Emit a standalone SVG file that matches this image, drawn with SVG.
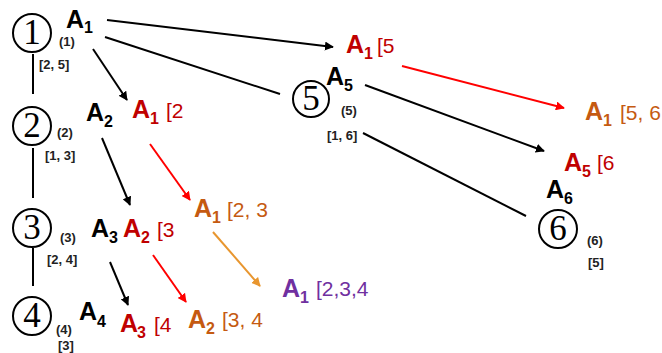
<svg xmlns="http://www.w3.org/2000/svg" width="662" height="353" viewBox="0 0 662 353">
<style>
.a{font-family:"Liberation Sans",Arial,sans-serif;font-weight:bold;font-size:25px}
.s{font-family:"Liberation Sans",Arial,sans-serif;font-weight:bold;font-size:16px}
.b{font-family:"Liberation Sans",Arial,sans-serif;font-size:21px}
.l{font-family:"Liberation Sans",Arial,sans-serif;font-weight:bold;font-size:13px;fill:#222}
.n{font-family:"Liberation Serif","Times New Roman",serif;font-size:35px;text-anchor:middle}
.c{fill:none;stroke:#000;stroke-width:2}
.k{fill:#000}.r{fill:#C00000}.o{fill:#C55A11}.p{fill:#7030A0}
.e{stroke-width:2;fill:none}
</style>
<defs>
<marker id="mk" viewBox="0 0 10 10" refX="9" refY="5" markerWidth="4.5" markerHeight="4.5" orient="auto" markerUnits="strokeWidth"><path d="M0,0L10,5L0,10z" fill="#000"/></marker>
<marker id="mr" viewBox="0 0 10 10" refX="9" refY="5" markerWidth="4.5" markerHeight="4.5" orient="auto" markerUnits="strokeWidth"><path d="M0,0L10,5L0,10z" fill="#FF0000"/></marker>
<marker id="mo" viewBox="0 0 10 10" refX="9" refY="5" markerWidth="4.5" markerHeight="4.5" orient="auto" markerUnits="strokeWidth"><path d="M0,0L10,5L0,10z" fill="#E8962F"/></marker>
</defs>
<g id="connectors">
<line x1="33" y1="54" x2="33" y2="94" stroke="#000" class="e"/>
<line x1="33" y1="148" x2="33" y2="198" stroke="#000" class="e"/>
<line x1="33" y1="248" x2="33" y2="286" stroke="#000" class="e"/>
<line x1="107" y1="20" x2="333" y2="47" stroke="#000" class="e" marker-end="url(#mk)"/>
<line x1="105" y1="37" x2="280" y2="94" stroke="#000" class="e"/>
<line x1="93" y1="49" x2="127" y2="100" stroke="#000" class="e" marker-end="url(#mk)"/>
<line x1="102" y1="138" x2="130" y2="205" stroke="#000" class="e" marker-end="url(#mk)"/>
<line x1="150" y1="144" x2="190" y2="200" stroke="#FF0000" class="e" marker-end="url(#mr)"/>
<line x1="110" y1="262" x2="128" y2="305" stroke="#000" class="e" marker-end="url(#mk)"/>
<line x1="153" y1="255" x2="186" y2="302" stroke="#FF0000" class="e" marker-end="url(#mr)"/>
<line x1="213" y1="232" x2="260" y2="286" stroke="#E8962F" class="e" marker-end="url(#mo)"/>
<line x1="402" y1="66" x2="564" y2="108" stroke="#FF0000" class="e" marker-end="url(#mr)"/>
<line x1="365" y1="85" x2="544" y2="151" stroke="#000" class="e" marker-end="url(#mk)"/>
<line x1="363" y1="133" x2="526" y2="216" stroke="#000" class="e"/>
</g>
<g id="node1">
<circle cx="32" cy="33" r="19" class="c"/><text x="32" y="44" class="n">1</text>
<text x="66" y="28" class="a k">A</text><text x="84" y="33" class="s k">1</text>
<text x="59" y="46" class="l">(1)</text>
<text x="39" y="69" class="l">[2, 5]</text>
</g>
<g id="node2">
<circle cx="32" cy="126" r="19" class="c"/><text x="32" y="137" class="n">2</text>
<text x="86" y="121" class="a k">A</text><text x="104" y="127" class="s k">2</text>
<text x="57" y="137" class="l">(2)</text>
<text x="45" y="160" class="l">[1, 3]</text>
</g>
<g id="node3">
<circle cx="32" cy="228" r="19" class="c"/><text x="32" y="239" class="n">3</text>
<text x="91" y="237" class="a k">A</text><text x="109" y="243" class="s k">3</text>
<text x="60" y="242" class="l">(3)</text>
<text x="47" y="264" class="l">[2, 4]</text>
</g>
<g id="node4">
<circle cx="32" cy="316" r="19" class="c"/><text x="32" y="327" class="n">4</text>
<text x="79" y="320" class="a k">A</text><text x="97" y="327" class="s k">4</text>
<text x="56" y="334" class="l">(4)</text>
<text x="58" y="350" class="l">[3]</text>
</g>
<g id="node5">
<circle cx="311" cy="99" r="18" class="c"/><text x="311" y="110" class="n">5</text>
<text x="326" y="85" class="a k">A</text><text x="344" y="91" class="s k">5</text>
<text x="341" y="115" class="l">(5)</text>
<text x="327" y="140" class="l">[1, 6]</text>
</g>
<g id="node6">
<circle cx="558" cy="229" r="19" class="c"/><text x="558" y="240" class="n">6</text>
<text x="546" y="198" class="a k">A</text><text x="564" y="204" class="s k">6</text>
<text x="587" y="245" class="l">(6)</text>
<text x="588" y="267" class="l">[5]</text>
</g>
<g id="t-a1-2">
<text x="132" y="118" class="a r">A</text><text x="150" y="124" class="s r">1</text><text x="166" y="118" class="b r">[2</text>
</g>
<g id="t-a2-3">
<text x="123" y="237" class="a r">A</text><text x="141" y="243" class="s r">2</text><text x="157" y="237" class="b r">[3</text>
</g>
<g id="t-a3-4">
<text x="120" y="332" class="a r">A</text><text x="137" y="338" class="s r">3</text><text x="154" y="332" class="b r">[4</text>
</g>
<g id="t-a1-23">
<text x="194" y="217" class="a o">A</text><text x="212" y="223" class="s o">1</text><text x="227" y="217" class="b o">[2, 3</text>
</g>
<g id="t-a2-34">
<text x="188" y="328" class="a o">A</text><text x="206" y="334" class="s o">2</text><text x="222" y="327" class="b o">[3, 4</text>
</g>
<g id="t-a1-234">
<text x="282" y="297" class="a p">A</text><text x="300" y="303" class="s p">1</text><text x="316" y="296" class="b p">[2,3,4</text>
</g>
<g id="t-a1-5">
<text x="346" y="53" class="a r">A</text><text x="364" y="59" class="s r">1</text><text x="377" y="53" class="b r">[5</text>
</g>
<g id="t-a1-56">
<text x="585" y="120" class="a o">A</text><text x="603" y="126" class="s o">1</text><text x="620" y="120" class="b o">[5, 6</text>
</g>
<g id="t-a5-6">
<text x="564" y="171" class="a r">A</text><text x="582" y="177" class="s r">5</text><text x="597" y="170" class="b r">[6</text>
</g>
</svg>
